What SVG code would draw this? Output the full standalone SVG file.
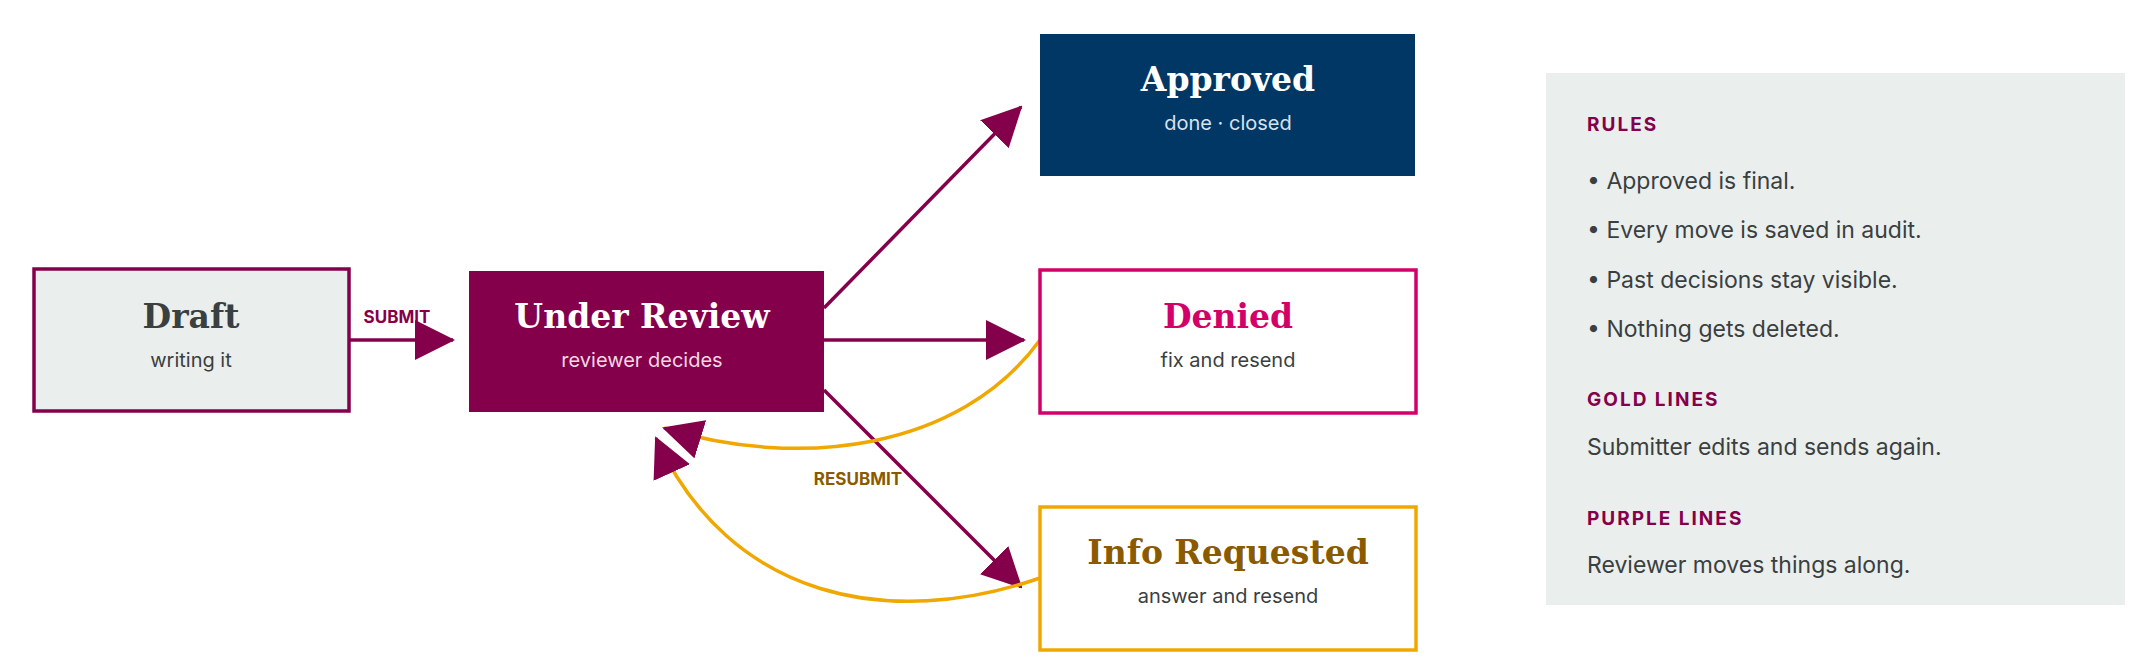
<svg xmlns="http://www.w3.org/2000/svg" width="2145" height="665" viewBox="0 0 2145 665">
<style>
.t{font-family:"Roboto Slab","DejaVu Serif",serif;font-weight:bold;font-size:33px;text-anchor:middle}
.s{font-family:Inter,"Liberation Sans",sans-serif;font-size:20px;text-anchor:middle}
.p{stroke:#85004b;stroke-width:3.5;fill:none}
.g{stroke:#f0a800;stroke-width:3.5;fill:none}
.lab{font-family:Inter,"Liberation Sans",sans-serif;font-weight:bold;font-size:17px;text-anchor:middle}
.h{font-family:Inter,"Liberation Sans",sans-serif;font-weight:bold;font-size:19px;fill:#85004b;letter-spacing:2px}
.b{font-family:Inter,"Liberation Sans",sans-serif;font-size:23px;fill:#3a3f3f}
</style>
<defs>
<marker id="ah" markerUnits="userSpaceOnUse" markerWidth="40" markerHeight="40" viewBox="0 0 40 40" refX="38" refY="20" orient="auto"><path d="M0,0 L40,20 L0,40 Z" fill="#85004b"/></marker>
</defs>
<rect width="2145" height="665" fill="#fff"/>
<g id="connectors">
<path class="p" d="M349,340 L453,340" marker-end="url(#ah)"/>
<path class="p" d="M824,308 L1021,107" marker-end="url(#ah)"/>
<path class="p" d="M824,340 L1024,340" marker-end="url(#ah)"/>
<path class="p" d="M824,390 L1021,587" marker-end="url(#ah)"/>
<path class="g" d="M1040,340 C960,450 800,470 664,428" marker-end="url(#ah)"/>
<path class="g" d="M1040,578 C890,630 730,600 656,438" marker-end="url(#ah)"/>
<text class="lab" x="397" y="323" fill="#85004b">SUBMIT</text>
<text class="lab" x="858" y="485" fill="#8a5a00">RESUBMIT</text>
</g>
<g id="draft"><rect x="34" y="269" width="315" height="142" fill="#eaeeed" stroke="#85004b" stroke-width="3.5"/>
<text class="t" x="191" y="328" fill="#3a3f3f">Draft</text><text class="s" x="191" y="367" fill="#3a3f3f">writing it</text></g>
<g id="review"><rect x="469" y="271" width="355" height="141" fill="#85004b"/>
<text class="t" x="642" y="328" fill="#fff">Under Review</text><text class="s" x="642" y="367" fill="#f0d8e4">reviewer decides</text></g>
<g id="approved"><rect x="1040" y="34" width="375" height="142" fill="#003764"/>
<text class="t" x="1228" y="91" fill="#fff">Approved</text><text class="s" x="1228" y="130" fill="#d8e2ee">done · closed</text></g>
<g id="denied"><rect x="1040" y="270" width="376" height="143" fill="#fff" stroke="#d4006a" stroke-width="3.5"/>
<text class="t" x="1228" y="328" fill="#d4006a">Denied</text><text class="s" x="1228" y="367" fill="#3a3f3f">fix and resend</text></g>
<g id="info"><rect x="1040" y="507" width="376" height="143" fill="#fff" stroke="#f0a800" stroke-width="3.5"/>
<text class="t" x="1228" y="564" fill="#8a5a00">Info Requested</text><text class="s" x="1228" y="603" fill="#3a3f3f">answer and resend</text></g>
<g id="legend"><rect x="1546" y="73" width="579" height="532" fill="#eaeeed"/>
<text class="h" x="1587" y="131">RULES</text>
<text class="b" x="1587" y="189">• Approved is final.</text>
<text class="b" x="1587" y="238">• Every move is saved in audit.</text>
<text class="b" x="1587" y="288">• Past decisions stay visible.</text>
<text class="b" x="1587" y="337">• Nothing gets deleted.</text>
<text class="h" x="1587" y="406">GOLD LINES</text>
<text class="b" x="1587" y="455">Submitter edits and sends again.</text>
<text class="h" x="1587" y="525">PURPLE LINES</text>
<text class="b" x="1587" y="573">Reviewer moves things along.</text>
</g>
</svg>
